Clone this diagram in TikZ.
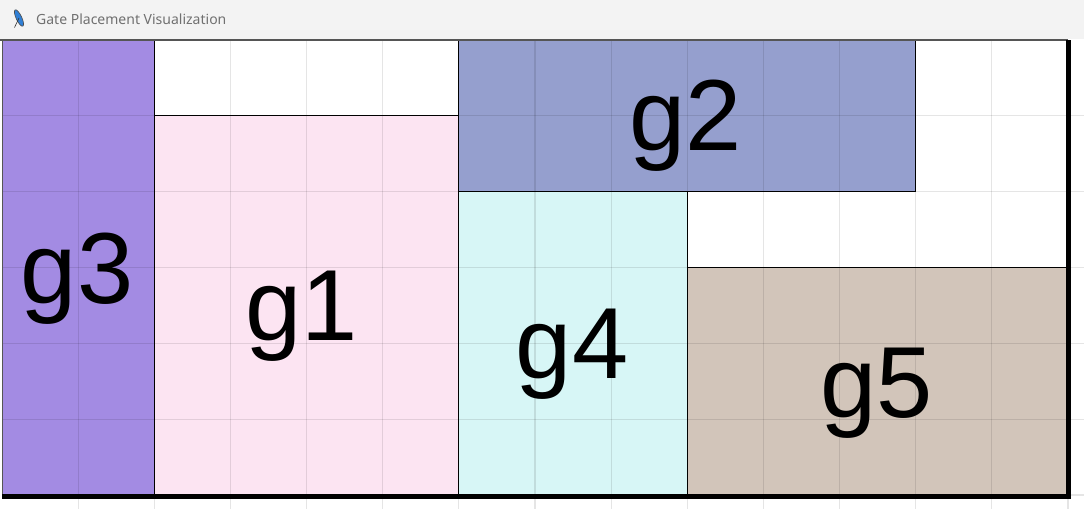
\documentclass[tikz,border=0pt]{standalone}
\usepackage{fontspec}
\setmainfont{Liberation Sans}
\newfontfamily\titlefont{Noto Sans}
\definecolor{barbg}{HTML}{F3F3F3}
\definecolor{titlefg}{HTML}{707070}
\definecolor{cg1}{HTML}{FCE4F2}
\definecolor{cg2}{HTML}{959FCE}
\definecolor{cg3}{HTML}{A38BE3}
\definecolor{cg4}{HTML}{D7F6F6}
\definecolor{cg5}{HTML}{D2C5BA}
\definecolor{framegray}{HTML}{555555}
\definecolor{featherblue}{HTML}{2F7FD6}
\tikzset{
  gate/.style={draw=black, line width=1pt},
  gatelabel/.style={anchor=base, inner sep=0pt, font=\fontsize{101}{101}\selectfont},
  gridline/.style={black, opacity=0.1, line width=1.2pt},
}
\def\X#1{(2+76.143*#1)}
\def\Y#1{(40+75.833*#1)}
\begin{document}
\begin{tikzpicture}[x=1pt,y=-1pt]
\useasboundingbox (0,0) rectangle (1084,509);
\fill[white] (0,0) rectangle (1084,509);
% title bar
\fill[barbg] (0,0) rectangle (1084,38.5);
\fill[featherblue, draw=black!70, line width=0.6pt, rotate around={25:(19,18)}] (19,18) ellipse [x radius=2.8, y radius=9];
\draw[black!80, line width=0.6pt] (14.5,27.5) -- (19,18);
\node[anchor=base west, inner sep=0pt, text=titlefg, font=\titlefont\fontsize{14}{14}\selectfont] (title) at (36,24) {Gate Placement Visualization};
% gates
\fill[cg3] ({\X0},{\Y0}) rectangle ({\X2},{\Y6});
\fill[cg1] ({\X2},{\Y1}) rectangle ({\X6},{\Y6});
\fill[cg2] ({\X6},{\Y0}) rectangle ({\X{12}},{\Y2});
\fill[cg4] ({\X6},{\Y2}) rectangle ({\X9},{\Y6});
\fill[cg5] ({\X9},{\Y3}) rectangle ({\X{14}},{\Y6});
% grid
\foreach \i in {1,...,14} \draw[gridline] ({\X\i},{\Y0}) -- ({\X\i},509);
\foreach \j in {1,...,6} \draw[gridline] ({\X0},{\Y\j}) -- (1084,{\Y\j});
% gate outlines
\draw[gate] ({\X0},{\Y0}) rectangle ({\X2},{\Y6});
\draw[gate] ({\X2},{\Y1}) rectangle ({\X6},{\Y6});
\draw[gate] ({\X6},{\Y0}) rectangle ({\X{12}},{\Y2});
\draw[gate] ({\X6},{\Y2}) rectangle ({\X9},{\Y6});
\draw[gate] ({\X9},{\Y3}) rectangle ({\X{14}},{\Y6});
% canvas frame
\draw[framegray, line width=1.3pt] (2.5,{\Y0}) -- (2.5,{\Y6});
\draw[framegray, line width=1.3pt] (0,{\Y0}) -- ({\X{14}},{\Y0});
\draw[black, line width=5pt] (2,496) -- (1070.5,496);
\draw[black, line width=5pt] (1068,{\Y0}) -- (1068,498.5);
% labels
\node[gatelabel] (g3) at ({(\X0+\X2)/2-1},{(\Y0+\Y2*0+\Y6)/2+36}) {g3};
\node[gatelabel] (g1) at ({(\X2+\X6)/2-5},{(\Y1+\Y6)/2+35}) {g1};
\node[gatelabel] (g2) at ({(\X6+\X{12})/2-2},{(\Y0+\Y2)/2+35}) {g2};
\node[gatelabel] (g4) at ({(\X6+\X9)/2-1},{(\Y2+\Y6)/2+35}) {g4};
\node[gatelabel] (g5) at ({(\X9+\X{14})/2-1},{(\Y3+\Y6)/2+36}) {g5};
\end{tikzpicture}
\end{document}
